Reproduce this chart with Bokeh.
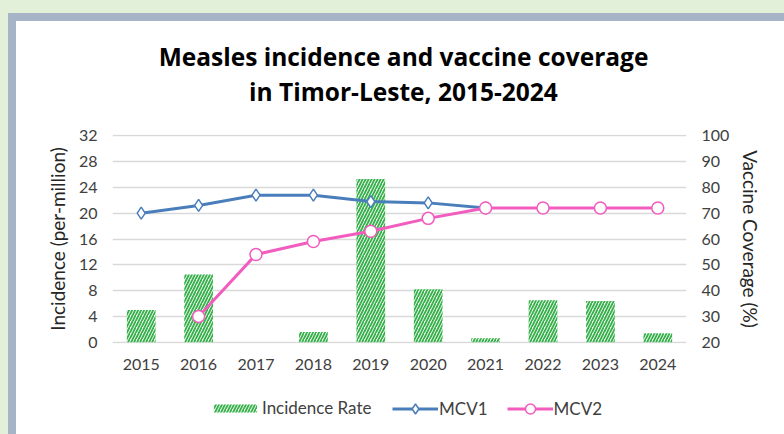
from bokeh.plotting import figure
from bokeh.models import (Range1d, LinearAxis, FactorRange, Label, Legend,
                          LegendItem, FixedTicker)
from bokeh.layouts import column
from bokeh.embed import file_html
from bokeh.resources import INLINE

# ---- data -------------------------------------------------------------
years = ["2015", "2016", "2017", "2018", "2019",
         "2020", "2021", "2022", "2023", "2024"]
incidence = [5.0, 10.5, 0.0, 1.6, 25.3, 8.2, 0.6, 6.5, 6.4, 1.4]

mcv1_years = ["2015", "2016", "2017", "2018", "2019", "2020", "2021"]
mcv1 = [70, 73, 77, 77, 74.5, 74, 72]

mcv2_years = ["2016", "2017", "2018", "2019", "2020",
              "2021", "2022", "2023", "2024"]
mcv2 = [30, 54, 59, 63, 68, 72, 72, 72, 72]

incidence_ticks = [0, 4, 8, 12, 16, 20, 24, 28, 32]
coverage_ticks = [20, 30, 40, 50, 60, 70, 80, 90, 100]

title_lines = ["Measles incidence and vaccine coverage",
               "in Timor-Leste, 2015-2024"]
series_names = ["Incidence Rate", "MCV1", "MCV2"]

# ---- styling ----------------------------------------------------------
FONT = "Lato"
TITLE_FONT = "Open Sans"
TEXT = "#404040"
BLUE = "#4a7ebb"
PINK = "#f25cbe"
GREEN = "#36b04a"
W = 768

bar_style = dict(fill_color="#f2fbf2", line_color=None,
                 hatch_pattern="right_diagonal_line", hatch_color=GREEN,
                 hatch_scale=6, hatch_weight=1.8)
mcv1_line = dict(line_color=BLUE, line_width=3)
mcv1_mark = dict(marker="diamond", size=12, fill_color="white",
                 line_color=BLUE, line_width=1.5)
mcv2_line = dict(line_color=PINK, line_width=3)
mcv2_mark = dict(marker="circle", size=12, fill_color="white",
                 line_color=PINK, line_width=1.5)


def blank(height):
    """A bare figure whose frame is the whole canvas (1 unit = 1 px)."""
    f = figure(width=W, height=height, x_range=Range1d(0, W),
               y_range=Range1d(0, height), output_backend="svg",
               toolbar_location=None, x_axis_location=None,
               y_axis_location=None, min_border=0, frame_align=False,
               outline_line_color=None, border_fill_color="white",
               background_fill_color="white")
    f.xgrid.grid_line_color = None
    f.ygrid.grid_line_color = None
    return f


# ---- title strip ------------------------------------------------------
head = blank(90)
for line, ty in zip(title_lines, [54.8, 20.5]):
    head.add_layout(Label(x=387, y=ty, text=line,
                          text_align="center", text_baseline="alphabetic",
                          text_font=TITLE_FONT, text_font_style="bold",
                          text_font_size="24.5px", text_color="black"))

# ---- main chart -------------------------------------------------------
p = figure(x_range=FactorRange(*years, range_padding=0),
           y_range=Range1d(-0.2, 32.2),
           width=W, height=274,
           output_backend="svg", toolbar_location=None, frame_align=False,
           min_border_left=96, min_border_right=98,
           min_border_top=23, min_border_bottom=42,
           border_fill_color="white", outline_line_color=None)

p.extra_y_ranges = {"cov": Range1d(19.5, 100.5)}

ax = p.yaxis[0]
ax.ticker = FixedTicker(ticks=incidence_ticks)
ax.axis_label = "Incidence (per-million)"

rax = LinearAxis(y_range_name="cov", ticker=FixedTicker(ticks=coverage_ticks),
                 axis_label="Vaccine Coverage (%)")
p.add_layout(rax, "right")

for a in [ax, rax, p.xaxis[0]]:
    a.axis_line_color = None
    a.major_tick_line_color = None
    a.minor_tick_line_color = None
    a.major_label_text_font = FONT
    a.major_label_text_font_size = "16px"
    a.major_label_text_color = TEXT
    a.major_label_standoff = 9
    a.axis_label_text_font = FONT
    a.axis_label_text_font_size = "19px"
    a.axis_label_text_font_style = "normal"
    a.axis_label_text_color = "#262626"
    a.axis_label_standoff = 7

p.xgrid.grid_line_color = None
p.ygrid.ticker = FixedTicker(ticks=incidence_ticks)
p.ygrid.grid_line_color = "#d9d9d9"
p.ygrid.grid_line_width = 1.5

p.vbar(x=years, top=incidence, width=0.5, **bar_style)
p.line(mcv1_years, mcv1, y_range_name="cov", **mcv1_line)
p.scatter(mcv1_years, mcv1, y_range_name="cov", **mcv1_mark)
p.line(mcv2_years, mcv2, y_range_name="cov", **mcv2_line)
p.scatter(mcv2_years, mcv2, y_range_name="cov", **mcv2_mark)

# ---- legend strip -----------------------------------------------------
# key renderers: one sample each, parked outside the strip's visible range
foot = blank(49)
off = [-100]
kb = foot.vbar(x=off, top=off, bottom=off, width=1, **bar_style)
k1l = foot.line(off, off, **mcv1_line)
k1m = foot.scatter(off, off, **mcv1_mark)
k2l = foot.line(off, off, **mcv2_line)
k2m = foot.scatter(off, off, **mcv2_mark)

common = dict(orientation="horizontal", label_text_font=FONT,
              label_text_font_size="17px", label_text_color=TEXT,
              padding=0, margin=0, border_line_color=None,
              background_fill_alpha=0)

bar_key = Legend(items=[LegendItem(label=series_names[0], renderers=[kb])],
                 location=(192, 16), glyph_width=54, glyph_height=10,
                 label_standoff=0, **common)
line_key = Legend(items=[LegendItem(label=series_names[1], renderers=[k1l, k1m]),
                         LegendItem(label=series_names[2], renderers=[k2l, k2m])],
                  location=(376, 13), glyph_width=46, glyph_height=25,
                  label_standoff=1, spacing=19, **common)
foot.add_layout(bar_key)
foot.add_layout(line_key)

# ---- white panel with a slate edge, on a tinted page ------------------
inner = column(head, p, foot, width=W, height=413, margin=(8, 0, 0, 8),
               styles={"background-color": "white"})
panel = column(inner, width=776, height=421, margin=(13, 0, 0, 8),
               styles={"background-color": "#a7b3c7"})
page = column(panel, width=784, height=434,
              styles={"background-color": "#e2efd9"})

open("out.html", "w").write(file_html(page, INLINE))
